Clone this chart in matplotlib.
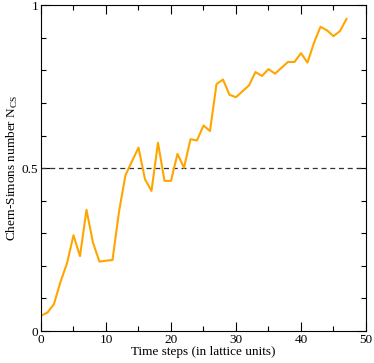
import matplotlib
matplotlib.use("Agg")
import matplotlib.pyplot as plt
from matplotlib.ticker import MultipleLocator

# Chern-Simons number vs time step
steps = list(range(0, 48))
ncs = [0.047, 0.057, 0.083, 0.151, 0.208, 0.294, 0.230, 0.372, 0.271, 0.213,
       0.216, 0.218, 0.366, 0.479, 0.521, 0.563, 0.466, 0.430, 0.578, 0.461,
       0.461, 0.544, 0.501, 0.589, 0.585, 0.631, 0.614, 0.758, 0.772, 0.725,
       0.718, 0.736, 0.754, 0.795, 0.783, 0.804, 0.790, 0.808, 0.826, 0.826,
       0.853, 0.824, 0.885, 0.934, 0.923, 0.905, 0.921, 0.958]
ytick_vals = [0, 0.5, 1]
ytick_labels = ["0", "0.5", "1"]

plt.rcParams["font.family"] = "Liberation Serif"
plt.rcParams["mathtext.fontset"] = "custom"
plt.rcParams["mathtext.rm"] = "Liberation Serif"
plt.rcParams["font.size"] = 9.5

fig = plt.figure(figsize=(3.74, 3.63), dpi=100)
ax = fig.add_axes([0.1096, 0.088, 0.869, 0.8975])

ax.axhline(0.5, color="#333333", linestyle=(0, (4, 3)), linewidth=0.9)
ax.plot(steps, ncs, color="#ffa500", linewidth=1.5)

ax.set_xlim(0, 50)
ax.set_ylim(0, 1)
ax.xaxis.set_major_locator(MultipleLocator(10))
ax.xaxis.set_minor_locator(MultipleLocator(5))
ax.set_yticks(ytick_vals)
ax.set_yticklabels(ytick_labels)
ax.yaxis.set_minor_locator(MultipleLocator(0.1))

ax.tick_params(which="both", direction="in", top=True, right=True, pad=2)
ax.tick_params(which="major", length=6.5, width=0.8)
ax.tick_params(which="minor", length=3.5, width=0.8)

ax.set_xlabel("Time steps (in lattice units)", labelpad=0)
ax.set_ylabel(r"Chern-Simons number N$_\mathrm{CS}$", labelpad=1)

fig.savefig("out.png", dpi=100)
